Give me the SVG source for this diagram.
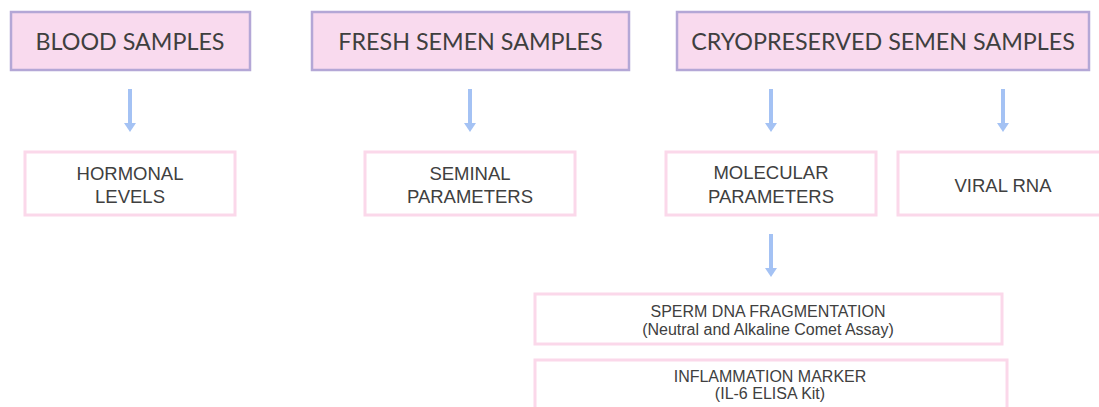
<svg xmlns="http://www.w3.org/2000/svg" width="1099" height="407" viewBox="0 0 1099 407">
<style>
.top{fill:#F9DAEE;stroke:#B4A7D6;stroke-width:2.5}
.sub{fill:#FFFFFF;stroke:#FBD8EA;stroke-width:3}
.tt{font-family:Lato,"Open Sans","Liberation Sans",sans-serif;font-size:23.3px;fill:#3F3F3F;text-anchor:middle}
.st{font-family:"Liberation Sans",Arial,sans-serif;font-size:18.5px;fill:#404040;text-anchor:middle}
.bt{font-family:"Liberation Sans",Arial,sans-serif;font-size:16px;fill:#404040;text-anchor:middle}
.arr{stroke:#A4C2F4;stroke-width:4;fill:none}
.head{fill:#A4C2F4}
</style>
<defs>
<g id="arrow">
<line class="arr" x1="0" y1="0" x2="0" y2="36"/>
<polygon class="head" points="-6,34 6,34 0,43"/>
</g>
</defs>
<g id="blood">
<rect class="top" x="11" y="12" width="239" height="58"/>
<text class="tt" x="130" y="50">BLOOD SAMPLES</text>
</g>
<g id="fresh">
<rect class="top" x="312" y="12" width="317" height="58"/>
<text class="tt" x="470.5" y="50">FRESH SEMEN SAMPLES</text>
</g>
<g id="cryo">
<rect class="top" x="677" y="12" width="412" height="58"/>
<text class="tt" x="883" y="50">CRYOPRESERVED SEMEN SAMPLES</text>
</g>
<g id="hormonal">
<rect class="sub" x="25" y="152" width="210" height="63"/>
<text class="st" x="130" y="180">HORMONAL</text>
<text class="st" x="130" y="203">LEVELS</text>
</g>
<g id="seminal">
<rect class="sub" x="365" y="152" width="210" height="63"/>
<text class="st" x="470" y="180">SEMINAL</text>
<text class="st" x="470" y="203">PARAMETERS</text>
</g>
<g id="molecular">
<rect class="sub" x="666" y="152" width="210" height="63"/>
<text class="st" x="771" y="179">MOLECULAR</text>
<text class="st" x="771" y="203">PARAMETERS</text>
</g>
<g id="viral">
<rect class="sub" x="898" y="152" width="210" height="63"/>
<text class="st" x="1003" y="192">VIRAL RNA</text>
</g>
<g id="dna">
<rect class="sub" x="535" y="294" width="467" height="50"/>
<text class="bt" x="768" y="317">SPERM DNA FRAGMENTATION</text>
<text class="bt" x="768" y="335">(Neutral and Alkaline Comet Assay)</text>
</g>
<g id="inflammation">
<rect class="sub" x="535" y="360" width="472" height="60"/>
<text class="bt" x="770" y="382">INFLAMMATION MARKER</text>
<text class="bt" x="770" y="399">(IL-6 ELISA Kit)</text>
</g>
<g id="connectors">
<use href="#arrow" x="130" y="89"/>
<use href="#arrow" x="470" y="89"/>
<use href="#arrow" x="771" y="89"/>
<use href="#arrow" x="1003" y="89"/>
<use href="#arrow" x="771" y="234"/>
</g>
</svg>
